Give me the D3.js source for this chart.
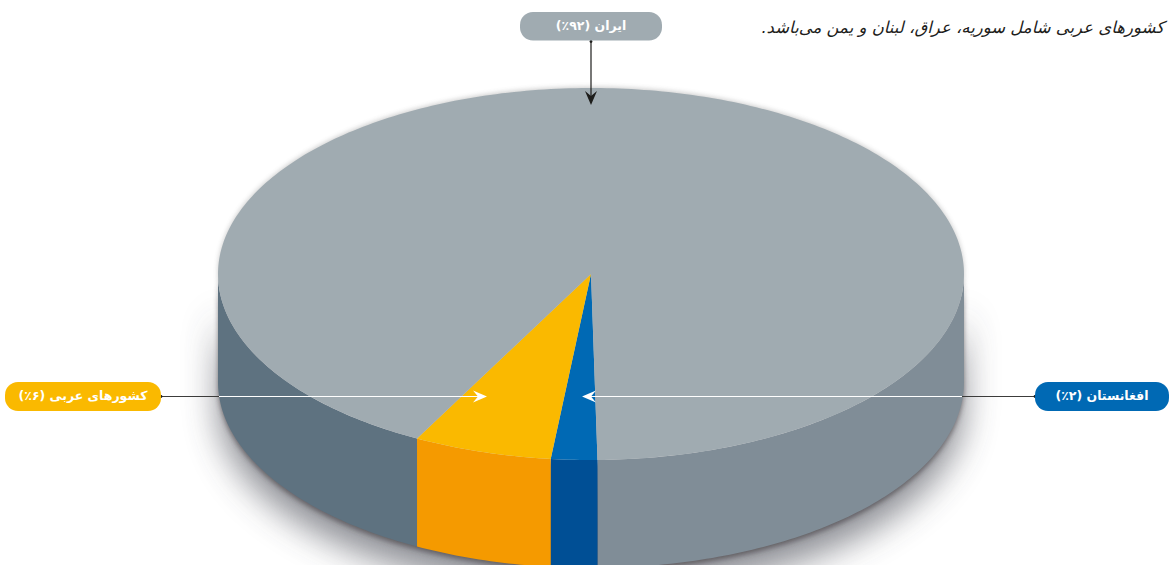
<!DOCTYPE html>
<html lang="fa">
<head>
<meta charset="utf-8">
<script src="https://cdn.jsdelivr.net/npm/d3@7"></script>
<style>
  html, body { margin: 0; padding: 0; background: #fff; overflow: hidden; }
  text { font-family: "DejaVu Sans", sans-serif; }
</style>
</head>
<body>
<div id="chart"></div>
<script>
const width = 1169
const height = 565

// shares in percent, in the order they run clockwise from the bottom of the pie
const countries = ['افغانستان', 'کشورهای عربی', 'ایران']
const shares = [2, 6, 92]
const shareLabels = ['۲٪', '۶٪', '۹۲٪']
const topColors = ['#0069b4', '#fab900', '#a0abb1']
const sideColors = ['#004f95', '#f59a00', '#5e7280']
const sideColorRight = '#808d97'
const note = 'کشورهای عربی شامل سوریه، عراق، لبنان و یمن می‌باشد.'

// setup svg
const svg = d3.select('#chart')
  .append('svg')
  .attr('width', width)
  .attr('height', height)
  .style('display', 'block')

const defs = svg.append('defs')
defs.append('filter')
    .attr('id', 'shadow')
    .attr('x', '-20%').attr('y', '-20%')
    .attr('width', '140%').attr('height', '140%')
  .append('feGaussianBlur')
    .attr('stdDeviation', 17)
defs.append('filter')
    .attr('id', 'shadowTight')
    .attr('x', '-20%').attr('y', '-20%')
    .attr('width', '140%').attr('height', '140%')
  .append('feGaussianBlur')
    .attr('stdDeviation', 2.5)

const cx = 591
const cy = 274
const rx = 373
const ry = 186
const depth = 108

// one unit circle angle -> tilted pie
const px = a => cx + rx * Math.sin(a)
const py = a => cy - ry * Math.cos(a)

const startAngle = 179 * Math.PI / 180
const slices = d3.pie()
  .sort(null)
  .startAngle(startAngle)
  .endAngle(startAngle + 2 * Math.PI)(shares)

function arcPoints(a0, a1) {
  const n = Math.max(2, Math.ceil(Math.abs(a1 - a0) * 60))
  return d3.range(n + 1).map(i => {
    const a = a0 + (a1 - a0) * i / n
    return [px(a), py(a)]
  })
}

function topPath(d) {
  return d3.line()([[cx, cy], ...arcPoints(d.startAngle, d.endAngle)]) + 'Z'
}

// only the front half of a slice has a visible wall
function sidePath(a0, a1) {
  const front = arcPoints(a0, a1)
  const back = front.slice().reverse().map(p => [p[0], p[1] + depth])
  return d3.line()([...front, ...back]) + 'Z'
}

// shadow under the body
const bodyOutline = sidePath(Math.PI / 2, 3 * Math.PI / 2)
svg.append('path')
  .attr('d', bodyOutline)
  .attr('fill', '#3f424e')
  .attr('opacity', 0.6)
  .attr('transform', 'translate(0,24)')
  .attr('filter', 'url(#shadow)')
svg.append('path')
  .attr('d', bodyOutline)
  .attr('fill', '#3a3438')
  .attr('opacity', 0.55)
  .attr('transform', 'translate(0,3)')
  .attr('filter', 'url(#shadowTight)')
svg.append('ellipse')
  .attr('cx', cx).attr('cy', cy - 1)
  .attr('rx', rx).attr('ry', ry)
  .attr('fill', '#555')
  .attr('opacity', 0.3)
  .attr('filter', 'url(#shadowTight)')

// walls
const iran = slices[2]
const frontEnd = 3 * Math.PI / 2
svg.append('path')
  .attr('d', sidePath(Math.PI / 2, slices[0].startAngle))
  .attr('fill', sideColorRight)
svg.append('path')
  .attr('d', sidePath(iran.startAngle, frontEnd))
  .attr('fill', sideColors[2])
svg.selectAll('path.wall')
  .data(slices.slice(0, 2))
  .join('path')
    .attr('class', 'wall')
    .attr('d', d => sidePath(d.startAngle, d.endAngle))
    .attr('fill', (d, i) => sideColors[i])

// top
svg.selectAll('path.top')
  .data(slices)
  .join('path')
    .attr('class', 'top')
    .attr('d', topPath)
    .attr('fill', (d, i) => topColors[i])

function arrowHead(x, y, dir, color) {
  // dir: unit vector the arrow points to
  const [ux, uy] = dir
  const nx = -uy
  const ny = ux
  const pts = [
    [x, y],
    [x - ux * 14 + nx * 6, y - uy * 14 + ny * 6],
    [x - ux * 9, y - uy * 9],
    [x - ux * 14 - nx * 6, y - uy * 14 - ny * 6]
  ]
  svg.append('path').attr('d', d3.line()(pts) + 'Z').attr('fill', color)
}

function leader(x1, y1, x2, y2, color) {
  svg.append('line')
    .attr('x1', x1).attr('y1', y1)
    .attr('x2', x2).attr('y2', y2)
    .attr('stroke', color)
    .attr('stroke-width', 1.2)
}

// leaders
const leaderY = 396.5
leader(591, 41, 591, 98, '#1d1d1b')
arrowHead(591, 105, [0, 1], '#1d1d1b')
svg.append('circle').attr('cx', 591).attr('cy', 41.5).attr('r', 1.4).attr('fill', '#1d1d1b')

leader(161, leaderY, 219, leaderY, '#3c3c3b')
leader(219, leaderY, 478, leaderY, '#fff')
arrowHead(487, leaderY, [1, 0], '#fff')
svg.append('circle').attr('cx', 161).attr('cy', leaderY).attr('r', 1.4).attr('fill', '#1d1d1b')

leader(1035, leaderY, 962, leaderY, '#3c3c3b')
leader(962, leaderY, 590, leaderY, '#fff')
arrowHead(582, leaderY, [-1, 0], '#fff')
svg.append('circle').attr('cx', 1035).attr('cy', leaderY).attr('r', 1.4).attr('fill', '#1d1d1b')

// labels, same order as the data
const labelBoxes = [
  { x: 1035, y: 382, w: 134, h: 29 },
  { x: 5, y: 382, w: 156, h: 29 },
  { x: 520, y: 12, w: 142, h: 28.5 }
]
const labels = svg.selectAll('g.label')
  .data(slices)
  .join('g')
    .attr('class', 'label')
labels.append('rect')
  .attr('x', (d, i) => labelBoxes[i].x)
  .attr('y', (d, i) => labelBoxes[i].y)
  .attr('width', (d, i) => labelBoxes[i].w)
  .attr('height', (d, i) => labelBoxes[i].h)
  .attr('rx', 13)
  .attr('fill', (d, i) => topColors[i])
labels.append('text')
  .attr('x', (d, i) => labelBoxes[i].x + labelBoxes[i].w / 2)
  .attr('y', (d, i) => labelBoxes[i].y + labelBoxes[i].h / 2)
  .attr('dy', '0.28em')
  .attr('text-anchor', 'middle')
  .attr('direction', 'rtl')
  .attr('fill', '#fff')
  .attr('font-size', 12.5)
  .attr('font-weight', 'bold')
  .text((d, i) => `${countries[i]} (${shareLabels[i]})`)

svg.append('text')
  .attr('x', 1164)
  .attr('y', 33)
  .attr('text-anchor', 'start')
  .attr('direction', 'rtl')
  .attr('fill', '#1d1d1b')
  .attr('font-size', 16.5)
  .attr('font-style', 'italic')
  .text(note)
</script>
</body>
</html>
